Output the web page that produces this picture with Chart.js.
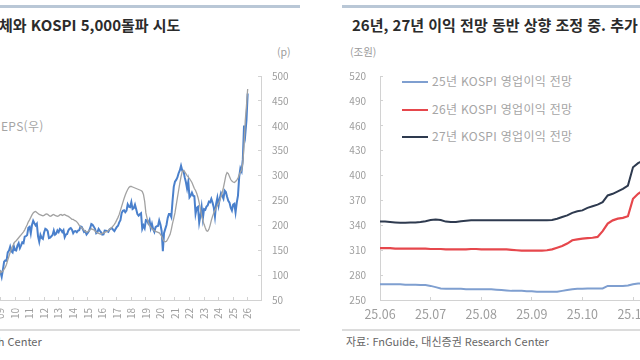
<!DOCTYPE html>
<html lang="ko">
<head>
<meta charset="utf-8">
<script src="https://cdn.jsdelivr.net/npm/chart.js@4"></script>
<style>
  html, body { margin: 0; padding: 0; }
  body { width: 640px; height: 360px; overflow: hidden; position: relative; background: #fff;
         font-family: 'Noto Sans CJK KR', sans-serif; }
  .rule-top { position: absolute; top: 5px; height: 3px; background: #b9c7d6; }
  .rule-bot { position: absolute; top: 329px; height: 2px; background: #dcdcdc; }
  .txt { position: absolute; line-height: 1; white-space: nowrap; }
  .title { top: 17px; font-size: 15px; font-weight: 700; color: #2b2b2b; }
  .unit { top: 47px; font-size: 10.5px; color: #9a9a9a; }
  .src { top: 336px; font-size: 11px; color: #666; }
  .leg { font-size: 12px; color: #a5a5a5; letter-spacing: 0.3px; }
  .legline { position: absolute; left: 402px; width: 26px; height: 2px; }
  canvas { position: absolute; top: 0; }
</style>
</head>
<body>
<div class="rule-top" style="left:0;width:300px"></div>
<div class="rule-top" style="left:342px;width:298px"></div>
<div class="rule-bot" style="left:0;width:300px"></div>
<div class="rule-bot" style="left:342px;width:298px"></div>

<div class="txt title" style="left:-1px">체와 KOSPI 5,000돌파 시도</div>
<div class="txt title" style="left:352px">26년, 27년 이익 전망 동반 상향 조정 중. 추가</div>
<div class="txt unit" style="left:277px">(p)</div>
<div class="txt unit" style="left:350px">(조원)</div>
<div class="txt leg" style="left:1px;top:120px">EPS(우)</div>
<div class="txt src" style="left:-161px">자료: FnGuide, 대신증권 Research Center</div>
<div class="txt src" style="left:346px">자료: FnGuide, 대신증권 Research Center</div>

<div class="legline" style="top:81px;background:#7f9fd0"></div>
<div class="legline" style="top:109px;background:#e6474c"></div>
<div class="legline" style="top:136px;background:#2e3a4f"></div>
<div class="txt leg" style="left:432px;top:75px">25년 KOSPI 영업이익 전망</div>
<div class="txt leg" style="left:432px;top:103px">26년 KOSPI 영업이익 전망</div>
<div class="txt leg" style="left:432px;top:130px">27년 KOSPI 영업이익 전망</div>

<canvas id="kospiChart" width="330" height="360" style="left:-30px"></canvas>
<canvas id="opChart" width="360" height="360" style="left:320px"></canvas>

<script>
// 왼쪽: KOSPI(좌, 월말) / 12M fwd EPS(우), 2008.01 ~ 2026.01
const years = ['08','09','10','11','12','13','14','15','16','17','18','19','20','21','22','23','24','25','26'];
const kospi = [
  1625,1712,1704,1825,1852,1674,1595,1474,1448,1113,1076,1124,
  1162,1063,1206,1369,1395,1390,1557,1591,1673,1581,1555,1682,
  1602,1594,1692,1741,1641,1698,1759,1742,1873,1883,1904,2051,
  2069,1939,2106,2192,2142,2100,2133,1880,1770,1909,1847,1826,
  1955,2030,2014,1982,1843,1854,1881,1905,1996,1912,1933,1997,
  1962,2027,2005,1964,2001,1863,1915,1926,1997,2030,2045,2011,
  1941,1980,1986,1961,1995,2002,2076,2068,2020,1964,1981,1916,
  1949,1986,2041,2127,2114,2074,2030,1941,1963,2029,1991,1961,
  1912,1917,1996,1994,1983,1970,2016,2034,2043,2008,1983,2026,
  2067,2091,2160,2205,2347,2392,2402,2363,2394,2523,2476,2467,
  2566,2427,2445,2515,2423,2326,2295,2322,2343,2029,2096,2041,
  2204,2195,2140,2203,2041,2130,2024,1967,2063,2083,2087,2197,
  2119,1987,1580,1947,2029,2108,2249,2326,2327,2267,2591,2873,
  2976,3013,3061,3147,3204,3297,3202,3199,3068,2970,2839,2977,
  2663,2699,2757,2695,2685,2332,2451,2472,2155,2293,2472,2236,
  2425,2412,2476,2501,2577,2564,2632,2556,2465,2277,2535,2655,
  2497,2642,2747,2692,2636,2798,2770,2674,2593,2556,2456,2399,
  2517,2533,2360,2556,2698,3072,3245,3186,3425,4107,3926,4214,
  4750
];
const eps = [
  128,130,131,133,134,133,130,126,120,112,104,100,
  108,106,108,112,116,122,130,138,146,153,158,163,
  167,169,172,175,178,181,184,187,191,196,201,207,
  211,216,221,225,227,228,226,224,222,221,220,219,
  220,222,223,222,220,218,219,221,222,220,219,218,
  219,221,222,220,221,222,220,219,218,216,214,212,
  212,210,209,207,204,200,197,195,193,190,188,186,
  187,189,191,193,192,191,189,186,185,184,183,182,
  184,185,186,187,188,189,192,194,196,199,202,206,
  211,216,222,230,238,246,254,261,267,272,276,278,
  278,277,276,275,274,273,272,271,270,268,262,248,
  225,214,206,200,196,193,191,189,188,187,186,185,
  182,178,172,168,167,168,172,177,182,192,204,214,
  225,240,255,270,285,298,308,310,308,304,300,297,
  294,290,286,280,274,270,264,256,245,232,220,210,
  202,195,189,188,192,200,210,218,225,230,235,240,
  244,250,258,266,276,288,300,306,304,298,292,289,
  287,286,288,291,295,301,307,311,325,360,410,440,
  474
];

// 오른쪽: 연도별 KOSPI 영업이익 전망(조원), 월 10개 관측
const monthTicks = ['25.06','25.07','25.08','25.09','25.10','25.11'];
const op25 = [
  269,269,269,269,269,268.5,268.5,268.5,268,268,
  267,265.5,264,263.5,263.5,263.5,263.5,263,263,263,
  263,263,263,262.5,262,261.5,261,261,261,260.5,
  260.5,260,260,260,260,260,261,262,263,263.5,
  263.5,264,264,264,264,267,267,267,267,267.5,
  269,270,270,270.5,271,271
];
const op26 = [
  312.5,312.5,312.5,312,312,312,312,312,312,312,
  311.5,311.5,311.5,311,311,311,311,311,311.5,311.5,
  311,311,311,311,311,311,310.5,310,309.5,309.5,
  309.5,309.5,309.5,310,311,313,315,318,322,323,
  324,324.5,325,326,333,342,346,348,349,351,
  372,378,382,385,388,391
];
const op27 = [
  344.5,344.5,344,343.5,343,343,343.5,343.5,344,345,
  346.5,347,346.5,344.5,344,344,345,345.5,346,346,
  346,346,346,346,346,346,346,346,346,346,
  346,346,346,346,346.5,348,350,352,355,357,
  358,361,363,365,368,376,378,381,384,388,
  410,415,418,422,426,430
];
const perMonth = 10;

Chart.defaults.font.family = "'Noto Sans CJK KR', sans-serif";
Chart.defaults.animation = false;

const axisColor = '#d2d2d2';
const tickColor = '#9d9d9d';

// 월 카테고리 (2008.01 ~ 2026.12)
const monthCats = [];
years.forEach(y => {
  for (let m = 1; m <= 12; m++) monthCats.push(y + '.' + String(m).padStart(2, '0'));
});

new Chart(document.getElementById('kospiChart'), {
  type: 'line',
  data: {
    labels: monthCats,
    datasets: [
      { label: 'EPS(우)', data: eps, yAxisID: 'y', borderColor: '#a2a2a2', borderWidth: 1.3,
        pointRadius: 0, tension: 0, order: 0 },
      { label: 'KOSPI(좌)', data: kospi, yAxisID: 'yL', borderColor: '#4a80cc', borderWidth: 2,
        pointRadius: 0, tension: 0, order: 1 }
    ]
  },
  options: {
    responsive: false,
    layout: { padding: { left: 15.94, top: 76, right: 0, bottom: 0 } },
    plugins: { legend: { display: false }, tooltip: { enabled: false } },
    scales: {
      x: {
        grid: { drawOnChartArea: false, tickLength: -3, color: axisColor },
        border: { color: axisColor },
        ticks: {
          autoSkip: false, minRotation: 90, maxRotation: 90, padding: 11,
          color: tickColor, font: { size: 10 },
          callback: (v, i) => monthCats[i].endsWith('.01') ? monthCats[i].slice(0, 2) : null
        },
        afterFit: s => { s.height = 60; }
      },
      yL: { position: 'left', display: false, min: 600, max: 5100 },
      y: {
        position: 'right', min: 50, max: 500,
        grid: { drawOnChartArea: false, tickLength: -3, color: axisColor },
        border: { color: axisColor },
        ticks: { stepSize: 50, padding: 14, color: tickColor, font: { size: 10 } },
        afterFit: s => { s.width = 39; }
      }
    }
  }
});

const opCats = op25.map((_, i) => monthTicks[Math.floor(i / perMonth)] + '-' + (i % perMonth));

new Chart(document.getElementById('opChart'), {
  type: 'line',
  data: {
    labels: opCats,
    datasets: [
      { label: '25년 KOSPI 영업이익 전망', data: op25, borderColor: '#7f9fd0', borderWidth: 2, pointRadius: 0 },
      { label: '26년 KOSPI 영업이익 전망', data: op26, borderColor: '#e6474c', borderWidth: 2.2, pointRadius: 0 },
      { label: '27년 KOSPI 영업이익 전망', data: op27, borderColor: '#2e3a4f', borderWidth: 2, pointRadius: 0 }
    ]
  },
  options: {
    responsive: false,
    layout: { padding: { left: 0, top: 76, right: 21.7, bottom: 0 } },
    plugins: { legend: { display: false }, tooltip: { enabled: false } },
    scales: {
      x: {
        grid: { drawOnChartArea: false, tickLength: -3, color: axisColor },
        border: { color: axisColor },
        ticks: {
          autoSkip: false, maxRotation: 0, padding: 10, color: tickColor, font: { size: 12.5 },
          callback: (v, i) => i % perMonth === 0 ? monthTicks[i / perMonth] : null
        },
        afterFit: s => { s.height = 60; }
      },
      y: {
        min: 250, max: 520,
        grid: { drawOnChartArea: false, tickLength: -3, color: axisColor },
        border: { color: axisColor },
        ticks: { stepSize: 30, padding: 17, color: tickColor, font: { size: 10 } },
        afterFit: s => { s.width = 60; }
      }
    }
  }
});
</script>
</body>
</html>
